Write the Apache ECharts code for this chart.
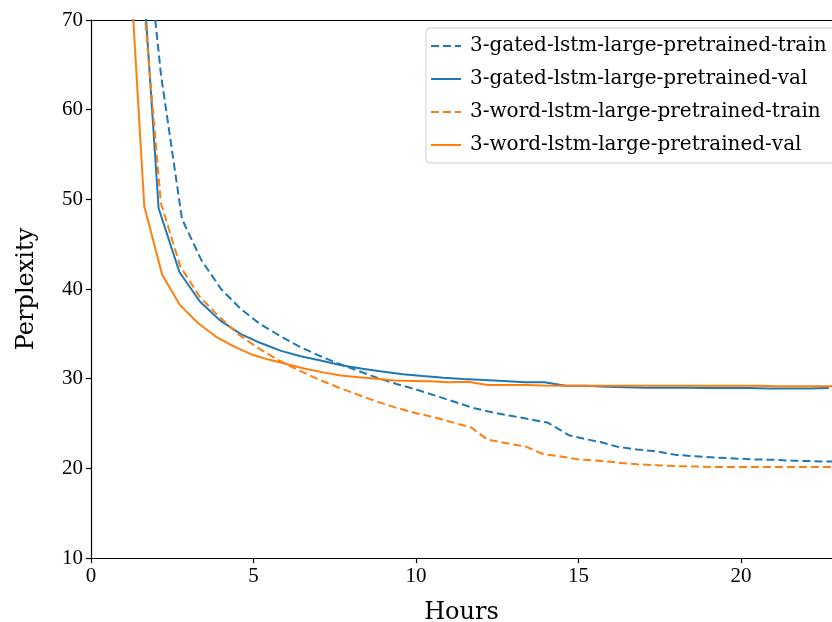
<!DOCTYPE html>
<html>
<head>
<meta charset="utf-8">
<script src="https://cdn.jsdelivr.net/npm/echarts@6/dist/echarts.min.js"></script>
<style>
html,body{margin:0;padding:0;background:#fff;}
#chart{width:832px;height:622px;}
</style>
</head>
<body>
<div id="chart"></div>
<script>
// ---- data ----
var seriesNames = [
  '3-gated-lstm-large-pretrained-train',
  '3-gated-lstm-large-pretrained-val',
  '3-word-lstm-large-pretrained-train',
  '3-word-lstm-large-pretrained-val'
];
var xTicks = [0, 5, 10, 15, 20];
var yTicks = [10, 20, 30, 40, 50, 60, 70];

var gatedTrainHours = [1.75, 2.15, 2.8, 3.4, 4.0, 4.6, 5.2, 5.8, 6.4, 7.0, 7.6, 8.2, 8.8, 9.4, 10.0, 10.6, 11.2, 11.8, 12.4, 13.0, 13.6, 14.05, 14.7, 15.3, 15.7, 16.2, 16.8, 17.4, 18.0, 18.6, 19.2, 19.8, 20.4, 21.0, 21.6, 22.2, 22.8];
var gatedTrainPpl   = [78, 64, 47.8, 43.2, 40.0, 37.8, 36.1, 34.8, 33.6, 32.6, 31.7, 30.9, 30.1, 29.4, 28.8, 28.1, 27.4, 26.7, 26.2, 25.8, 25.4, 25.1, 23.7, 23.2, 22.9, 22.4, 22.1, 21.9, 21.5, 21.35, 21.2, 21.1, 21.0, 20.95, 20.85, 20.8, 20.75];

var gatedValHours = [1.46, 2.08, 2.72, 3.35, 3.97, 4.6, 5.2, 5.85, 6.45, 7.1, 7.7, 8.35, 8.95, 9.6, 10.2, 10.85, 11.45, 12.1, 12.7, 13.35, 13.95, 14.6, 15.2, 15.85, 16.45, 17.1, 17.7, 18.35, 18.95, 19.6, 20.2, 20.85, 21.45, 22.1, 22.7];
var gatedValPpl   = [83, 49.0, 41.9, 38.6, 36.5, 35.0, 34.0, 33.1, 32.5, 32.0, 31.5, 31.1, 30.8, 30.5, 30.3, 30.1, 29.95, 29.85, 29.75, 29.6, 29.6, 29.2, 29.2, 29.1, 29.05, 29.0, 29.0, 29.0, 28.95, 28.95, 28.95, 28.9, 28.9, 28.9, 28.95];

var wordTrainHours = [1.55, 2.15, 2.75, 3.35, 3.95, 4.55, 5.15, 5.75, 6.35, 6.95, 7.55, 8.15, 8.75, 9.35, 9.95, 10.55, 11.15, 11.7, 12.2, 12.8, 13.4, 13.9, 14.5, 15.0, 15.6, 16.2, 16.8, 17.4, 18.0, 18.6, 19.2, 19.8, 20.4, 21.0, 21.6, 22.2, 22.8];
var wordTrainPpl   = [75, 49.6, 42.5, 39.1, 36.9, 34.9, 33.4, 32.1, 31.0, 30.0, 29.1, 28.3, 27.5, 26.8, 26.2, 25.7, 25.1, 24.55, 23.2, 22.8, 22.4, 21.6, 21.3, 21.0, 20.85, 20.65, 20.45, 20.35, 20.25, 20.2, 20.15, 20.15, 20.15, 20.15, 20.15, 20.15, 20.15];

var wordValHours = [1.09, 1.64, 2.19, 2.74, 3.29, 3.84, 4.39, 4.94, 5.49, 6.04, 6.59, 7.14, 7.69, 8.24, 8.79, 9.34, 9.89, 10.44, 10.99, 11.6, 12.2, 12.8, 13.4, 13.9, 14.5, 15.1, 15.7, 16.3, 16.9, 17.5, 18.1, 18.7, 19.3, 19.9, 20.5, 21.1, 21.7, 22.3, 22.8];
var wordValPpl   = [83, 49.2, 41.6, 38.2, 36.2, 34.7, 33.6, 32.7, 32.1, 31.6, 31.1, 30.7, 30.35, 30.15, 30.0, 29.8, 29.75, 29.7, 29.6, 29.65, 29.3, 29.3, 29.3, 29.25, 29.2, 29.2, 29.2, 29.2, 29.2, 29.2, 29.2, 29.2, 29.2, 29.2, 29.2, 29.15, 29.15, 29.15, 29.15];

function pairs(xs, ys) { return xs.map(function (x, i) { return [x, ys[i]]; }); }

var BLUE = '#1f77b4', ORANGE = '#ff7f0e';
var FONT = '"Liberation Serif", "DejaVu Serif", serif';
var WIDE = '"DejaVu Serif", "Liberation Serif", serif';

var chart = echarts.init(document.getElementById('chart'), null, {renderer: 'canvas'});

function lineSeries(name, data, color, dashed) {
  return {
    name: name, type: 'line', data: data, showSymbol: false, symbol: 'none',
    clip: true, animation: false, xAxisIndex: 0, yAxisIndex: 0,
    lineStyle: {color: color, width: 2, type: dashed ? [8, 4] : 'solid'},
    itemStyle: {color: color}
  };
}

var option = {
  animation: false,
  backgroundColor: '#fff',
  textStyle: {fontFamily: FONT, color: '#000'},
  grid: {left: 91, right: 0, top: 20, bottom: 64, containLabel: false, outerBoundsMode: 'none'},
  legend: {
    orient: 'vertical', left: 426, top: 28,
    data: seriesNames,
    itemWidth: 30, itemHeight: 14, itemGap: 13,
    padding: [8, 10, 8, 4],
    borderColor: '#cccccc', borderWidth: 1, borderRadius: 4,
    backgroundColor: 'rgba(255,255,255,0.8)',
    itemStyle: {opacity: 0},
    textStyle: {fontFamily: WIDE, fontSize: 20, color: '#000', padding: [0, 0, 0, 4]}
  },
  xAxis: [{
    type: 'value', min: 0, max: 22.8, interval: 5,
    name: 'Hours', nameLocation: 'middle', nameGap: 43,
    nameTextStyle: {fontFamily: WIDE, fontSize: 24, color: '#000'},
    axisLine: {show: true, onZero: false, lineStyle: {color: '#000', width: 1.2}},
    axisTick: {show: true, inside: false, length: 5, lineStyle: {color: '#000', width: 1.2},
               customValues: xTicks},
    axisLabel: {fontFamily: FONT, fontSize: 21, color: '#000', margin: 8,
                customValues: xTicks},
    splitLine: {show: false}
  }, {
    type: 'value', position: 'top', min: 0, max: 22.8,
    axisLine: {show: true, onZero: false, lineStyle: {color: '#000', width: 1.2}},
    axisTick: {show: false}, axisLabel: {show: false}, splitLine: {show: false}
  }],
  yAxis: {
    type: 'value', min: 10, max: 70, interval: 10,
    name: 'Perplexity', nameLocation: 'middle', nameGap: 52, nameRotate: 90,
    nameTextStyle: {fontFamily: WIDE, fontSize: 24, color: '#000'},
    axisLine: {show: true, onZero: false, lineStyle: {color: '#000', width: 1.2}},
    axisTick: {show: true, inside: false, length: 5, lineStyle: {color: '#000', width: 1.2},
               customValues: yTicks},
    axisLabel: {fontFamily: FONT, fontSize: 21, color: '#000', margin: 8,
                customValues: yTicks},
    splitLine: {show: false}
  },
  series: [
    lineSeries(seriesNames[0], pairs(gatedTrainHours, gatedTrainPpl), BLUE, true),
    lineSeries(seriesNames[1], pairs(gatedValHours, gatedValPpl), BLUE, false),
    lineSeries(seriesNames[2], pairs(wordTrainHours, wordTrainPpl), ORANGE, true),
    lineSeries(seriesNames[3], pairs(wordValHours, wordValPpl), ORANGE, false)
  ]
};
chart.setOption(option);
</script>
</body>
</html>
